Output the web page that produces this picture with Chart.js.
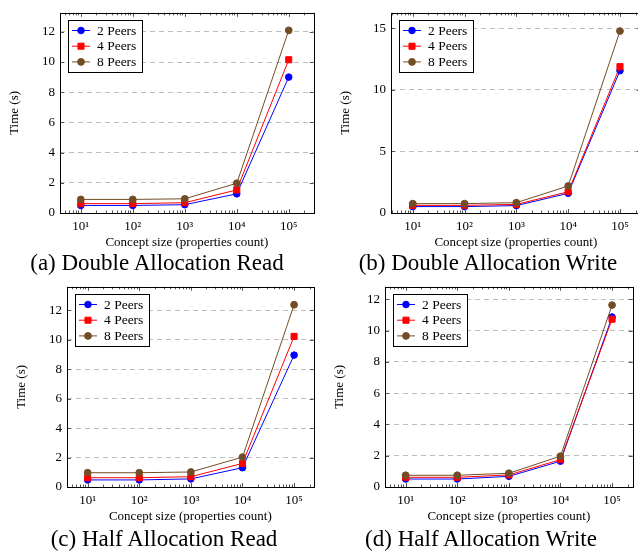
<!DOCTYPE html>
<html>
<head>
<meta charset="utf-8">
<script src="https://cdn.jsdelivr.net/npm/chart.js@4.4.1/dist/chart.umd.min.js"></script>
<style>
  html, body { margin: 0; padding: 0; background: #fff; overflow: hidden; }
  body { width: 638px; height: 553px; position: relative; }
  canvas { position: absolute; }
  .caption {
    position: absolute; width: 320px; text-align: center; white-space: nowrap;
    font-family: 'Liberation Serif', serif; font-size: 23px; line-height: 23px; color: #000;
  }
</style>
</head>
<body>
<script>
'use strict';

// ---- data ----
const sizes = [10, 100, 1000, 10000, 100000];
const xTickLabels = ['10¹', '10²', '10³', '10⁴', '10⁵'];
const seriesLabels = ['2 Peers', '4 Peers', '8 Peers'];

const doubleRead2  = [0.50, 0.50, 0.55, 1.27, 9.00];
const doubleRead4  = [0.62, 0.62, 0.68, 1.53, 10.15];
const doubleRead8  = [0.90, 0.90, 0.94, 1.97, 12.10];

const doubleWrite2 = [0.52, 0.52, 0.60, 1.60, 11.55];
const doubleWrite4 = [0.62, 0.62, 0.70, 1.72, 11.88];
const doubleWrite8 = [0.76, 0.76, 0.84, 2.19, 14.77];

const halfRead2    = [0.48, 0.48, 0.55, 1.31, 8.96];
const halfRead4    = [0.63, 0.63, 0.70, 1.60, 10.23];
const halfRead8    = [0.97, 0.97, 1.02, 2.03, 12.38];

const halfWrite2   = [0.51, 0.51, 0.68, 1.65, 10.87];
const halfWrite4   = [0.62, 0.62, 0.77, 1.75, 10.73];
const halfWrite8   = [0.75, 0.75, 0.88, 1.97, 11.63];

const yTicksTen    = [0, 2, 4, 6, 8, 10, 12];
const yTicksFive   = [0, 5, 10, 15];

const captions = [
  '(a) Double Allocation Read',
  '(b) Double Allocation Write',
  '(c) Half Allocation Read',
  '(d) Half Allocation Write',
];

// ---- styling / layout ----
const colors  = ['#0000ff', '#ff0000', '#734d26'];
const markers = ['circle', 'rect', 'circle'];
const radii   = [3.3, 4.3, 3.4];

const panels = [
  { series: [doubleRead2, doubleRead4, doubleRead8],   yTicks: yTicksTen,  yMax: 13.26, xLo: 0.60, xHi: 5.48,
    left: 0,   top: 0,   width: 319, capX: 157, capY: 251 },
  { series: [doubleWrite2, doubleWrite4, doubleWrite8], yTicks: yTicksFive, yMax: 16.25, xLo: 0.58, xHi: 5.40,
    left: 331, top: 0,   width: 315, capX: 488, capY: 251 },
  { series: [halfRead2, halfRead4, halfRead8],          yTicks: yTicksTen,  yMax: 13.6,  xLo: 0.60, xHi: 5.38,
    left: 7,   top: 274, width: 312, capX: 164, capY: 527 },
  { series: [halfWrite2, halfWrite4, halfWrite8],       yTicks: yTicksTen,  yMax: 12.8,  xLo: 0.60, xHi: 5.40,
    left: 325, top: 274, width: 313, capX: 481, capY: 527 },
];

Chart.defaults.font.family = "'Liberation Serif', serif";
Chart.defaults.color = '#000';

// pgfplots-like box: inner tick marks, full frame and a boxed legend
const pgfAxis = {
  id: 'pgfAxis',
  afterDraw(chart) {
    const { ctx, chartArea: a, scales: { x, y } } = chart;
    ctx.save();
    ctx.lineWidth = 1;
    ctx.strokeStyle = '#555';
    ctx.beginPath();
    for (let e = 0; e <= 6; e++) {
      for (let k = 1; k <= 9; k++) {
        const v = k * Math.pow(10, e);
        if (v < x.min || v > x.max) continue;
        const px = Math.round(x.getPixelForValue(v)) + 0.5;
        const len = k === 1 ? 4 : 2.5;
        ctx.moveTo(px, a.bottom); ctx.lineTo(px, a.bottom - len);
        ctx.moveTo(px, a.top);    ctx.lineTo(px, a.top + len);
      }
    }
    y.ticks.forEach(t => {
      const py = Math.round(y.getPixelForValue(t.value)) + 0.5;
      ctx.moveTo(a.left, py);  ctx.lineTo(a.left + 4, py);
      ctx.moveTo(a.right, py); ctx.lineTo(a.right - 4, py);
    });
    ctx.stroke();

    ctx.strokeStyle = '#000';
    ctx.strokeRect(Math.round(a.left) + 0.5, Math.round(a.top) + 0.5,
                   Math.round(a.right - a.left), Math.round(a.bottom - a.top));

    // legend
    const L = Math.round(a.left) + 8, T = Math.round(a.top) + 7, W = 74, H = 52;
    ctx.fillStyle = '#fff';
    ctx.fillRect(L, T, W, H);
    ctx.strokeStyle = '#000';
    ctx.strokeRect(L + 0.5, T + 0.5, W, H);
    ctx.font = "13.5px 'Liberation Serif', serif";
    ctx.textBaseline = 'middle';
    chart.data.datasets.forEach((ds, i) => {
      const cy = T + 10.5 + i * 15.7;
      ctx.strokeStyle = ds.borderColor;
      ctx.fillStyle = ds.borderColor;
      ctx.beginPath();
      ctx.moveTo(L + 4, cy); ctx.lineTo(L + 22, cy);
      ctx.stroke();
      Chart.helpers.drawPoint(ctx, { pointStyle: ds.pointStyle, radius: ds.pointRadius, borderWidth: 1, rotation: 0 }, L + 13, cy);
      ctx.fillStyle = '#000';
      ctx.fillText(ds.label, L + 29, cy + 0.5);
    });
    ctx.restore();
  }
};

panels.forEach((p, idx) => {
  const canvas = document.createElement('canvas');
  canvas.width = p.width;
  canvas.height = 252;
  canvas.style.left = p.left + 'px';
  canvas.style.top = p.top + 'px';
  document.body.appendChild(canvas);

  const cap = document.createElement('div');
  cap.className = 'caption';
  cap.textContent = captions[idx];
  cap.style.left = (p.capX - 160) + 'px';
  cap.style.top = p.capY + 'px';
  document.body.appendChild(cap);

  new Chart(canvas, {
    type: 'line',
    data: {
      datasets: p.series.map((vals, i) => ({
        label: seriesLabels[i],
        data: sizes.map((s, j) => ({ x: s, y: vals[j] })),
        borderColor: colors[i],
        backgroundColor: colors[i],
        pointBackgroundColor: colors[i],
        pointBorderColor: colors[i],
        pointStyle: markers[i],
        pointRadius: radii[i],
        pointBorderWidth: 1,
        borderWidth: 1,
        tension: 0,
        order: 2 - i,
      })),
    },
    options: {
      responsive: false,
      animation: false,
      devicePixelRatio: 1,
      layout: { padding: { left: 0, top: 5, right: 4, bottom: 0 } },
      plugins: { legend: { display: false }, tooltip: { enabled: false } },
      scales: {
        x: {
          type: 'logarithmic',
          min: Math.pow(10, p.xLo),
          max: Math.pow(10, p.xHi),
          afterFit: s => { s.height = 39; },
          afterBuildTicks: s => { s.ticks = sizes.map(v => ({ value: v })); },
          ticks: {
            callback: (v, i) => xTickLabels[i],
            autoSkip: false, maxRotation: 0, padding: 6,
            font: { size: 13 },
          },
          grid: { display: false, drawTicks: false },
          border: { display: false },
          title: {
            display: true, text: 'Concept size (properties count)',
            font: { size: 13 }, padding: { top: 0, bottom: 2 },
          },
        },
        y: {
          min: 0,
          max: p.yMax,
          afterFit: s => { s.width = 60; },
          afterBuildTicks: s => { s.ticks = p.yTicks.map(v => ({ value: v })); },
          ticks: { padding: 5, font: { size: 13 } },
          grid: { color: '#bdbdbd', lineWidth: 1, drawTicks: false },
          border: { display: false, dash: [5, 4] },
          title: {
            display: true, text: 'Time (s)',
            font: { size: 13 }, padding: { top: 7, bottom: 0 },
          },
        },
      },
    },
    plugins: [pgfAxis],
  });
});
</script>
</body>
</html>
